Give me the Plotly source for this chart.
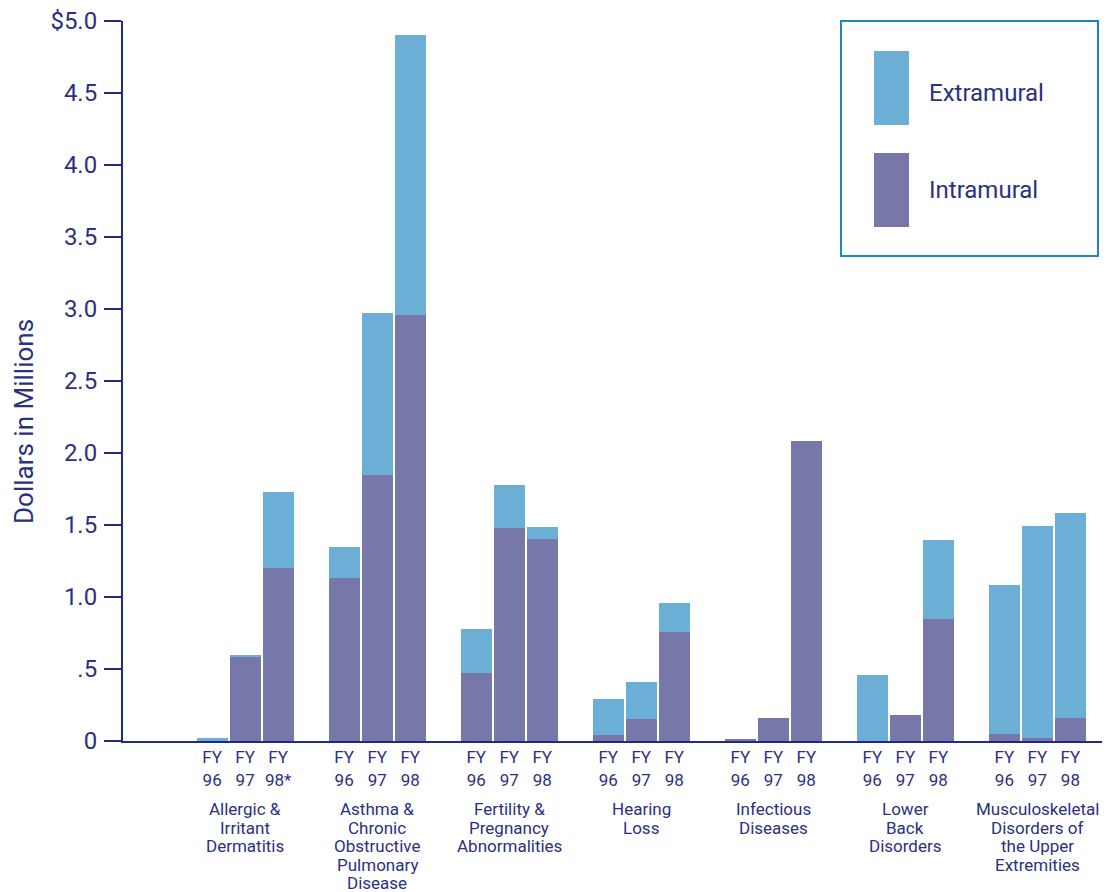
import plotly.graph_objects as go

# ---------------- data ----------------
groups = [
    ["Allergic &", "Irritant", "Dermatitis"],
    ["Asthma &", "Chronic", "Obstructive", "Pulmonary", "Disease"],
    ["Fertility &", "Pregnancy", "Abnormalities"],
    ["Hearing", "Loss"],
    ["Infectious", "Diseases"],
    ["Lower", "Back", "Disorders"],
    ["Musculoskeletal", "Disorders of", "the Upper", "Extremities"],
]
year_labels = [
    ["FY<br>96", "FY<br>97", "FY<br>98*"],
    ["FY<br>96", "FY<br>97", "FY<br>98"],
    ["FY<br>96", "FY<br>97", "FY<br>98"],
    ["FY<br>96", "FY<br>97", "FY<br>98"],
    ["FY<br>96", "FY<br>97", "FY<br>98"],
    ["FY<br>96", "FY<br>97", "FY<br>98"],
    ["FY<br>96", "FY<br>97", "FY<br>98"],
]
intramural = [
    [0.0, 0.58, 1.20],
    [1.13, 1.85, 2.96],
    [0.47, 1.48, 1.40],
    [0.04, 0.15, 0.76],
    [0.015, 0.16, 2.08],
    [0.0, 0.18, 0.85],
    [0.05, 0.02, 0.16],
]
extramural = [
    [0.02, 0.015, 0.53],
    [0.22, 1.12, 1.94],
    [0.31, 0.30, 0.085],
    [0.25, 0.26, 0.195],
    [0.0, 0.0, 0.0],
    [0.46, 0.0, 0.545],
    [1.035, 1.475, 1.42],
]
y_tickvals = [0, 0.5, 1.0, 1.5, 2.0, 2.5, 3.0, 3.5, 4.0, 4.5, 5.0]
y_ticktext = ["0", ".5", "1.0", "1.5", "2.0", "2.5", "3.0", "3.5", "4.0", "4.5", "$5.0"]

# ---------------- styling ----------------
FONT = "Roboto, Liberation Sans, sans-serif"
NAVY = "#2a3182"
AXIS = "#1f2a80"
C_EXT = "#6baed6"
C_INT = "#7877aa"
BORDER = "#1b86c2"

xs, ticktext = [], []
for gi in range(len(groups)):
    for j in range(3):
        xs.append(gi * 4 + j)
        ticktext.append(year_labels[gi][j])
intra_flat = [v for g in intramural for v in g]
extra_flat = [v for g in extramural for v in g]

fig = go.Figure()
fig.add_trace(go.Bar(x=xs, y=intra_flat, name="Intramural", marker_color=C_INT,
                     marker_line_width=0, width=0.94))
fig.add_trace(go.Bar(x=xs, y=extra_flat, name="Extramural", marker_color=C_EXT,
                     marker_line_width=0, width=0.94))

OFF = 8  # page body margin
L, T, Y0 = 123, 21, 741   # target page pixels
W, H = 1110 - OFF, 892 - OFF
pw = 1110 - L
ph = Y0 - T

fig.update_layout(
    barmode="stack",
    width=W, height=H,
    margin=dict(l=L - OFF, r=0, t=T - OFF, b=892 - Y0, pad=0),
    plot_bgcolor="white", paper_bgcolor="white",
    showlegend=False,
    font=dict(family=FONT, color=NAVY),
    xaxis=dict(range=[-2.7, 27.2], tickvals=xs, ticktext=ticktext,
               tickfont=dict(size=17, color=NAVY, family=FONT),
               ticks="", showgrid=False, zeroline=False,
               showline=True, linecolor=AXIS, linewidth=2,
               ticklabelstandoff=0),
    yaxis=dict(range=[0, 5.0], tickvals=y_tickvals, ticktext=y_ticktext,
               tickfont=dict(size=24, color=NAVY, family=FONT),
               ticks="outside", ticklen=17, tickwidth=2, tickcolor=AXIS,
               showgrid=False, zeroline=False,
               showline=True, linecolor=AXIS, linewidth=2,
               ticklabelstandoff=2, ticklabeloverflow="allow"),
)

def px_x(p):
    return (p - L) / pw

def px_y(p):
    return (Y0 - p) / ph

# y-axis title
fig.add_annotation(text="Dollars in Millions", xref="paper", yref="paper",
                   x=px_x(24), y=px_y(422), textangle=-90,
                   showarrow=False, xanchor="center", yanchor="middle",
                   font=dict(size=26, color=NAVY, family=FONT))

# group labels, line by line
for gi, lines in enumerate(groups):
    for li, line in enumerate(lines):
        fig.add_annotation(text=line, x=gi * 4 + 1, xref="x", yref="paper", y=0,
                           yshift=-(68 + 18.6 * li), showarrow=False,
                           xanchor="center", yanchor="middle",
                           font=dict(size=17, color=NAVY, family=FONT))

# legend box
fig.add_shape(type="rect", xref="paper", yref="paper",
              x0=px_x(841), x1=px_x(1098), y0=px_y(256), y1=px_y(21),
              line=dict(color=BORDER, width=2), fillcolor="white")
for name, col, ytop, ybot, ytxt in [("Extramural", C_EXT, 51, 125, 93),
                                      ("Intramural", C_INT, 153, 227, 190)]:
    fig.add_shape(type="rect", xref="paper", yref="paper",
                  x0=px_x(874), x1=px_x(909), y0=px_y(ybot), y1=px_y(ytop),
                  line=dict(width=0), fillcolor=col)
    fig.add_annotation(text=name, xref="paper", yref="paper",
                       x=px_x(927), y=px_y(ytxt), showarrow=False,
                       xanchor="left", yanchor="middle",
                       font=dict(size=24, color=NAVY, family=FONT))

fig.write_html("out.html")
